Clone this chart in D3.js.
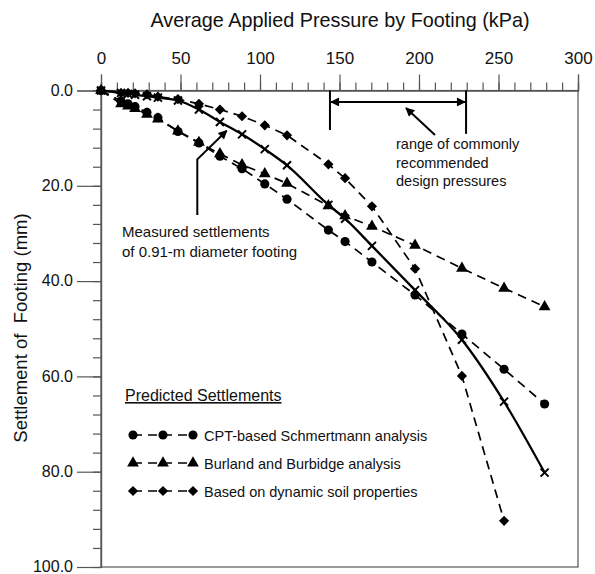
<!DOCTYPE html>
<html>
<head>
<meta charset="utf-8">
<script src="https://cdn.jsdelivr.net/npm/d3@7"></script>
<style>
  body { margin: 0; background: #fff; }
  text { font-family: "Liberation Sans", Arial, sans-serif; fill: #111; }
</style>
</head>
<body>
<div id="chart"></div>
<script>
// pressures (kPa) shared by all series
var pressure = [0, 12.6, 17, 21.4, 28.9, 35.8, 48.4, 61.6, 74.8, 88.7, 103, 117, 143, 153.5, 170.4, 197.5, 227, 253.5, 279];
// settlements (mm)
var measured     = [0, 0.5, 0.7, 0.9, 1.2, 1.5, 2.1, 4.0, 6.6, 9.2, 12.3, 15.7, 24.0, 26.9, 32.6, 41.9, 52.3, 65.3, 80.2];
var schmertmann  = [0, 2.2, 2.8, 3.4, 4.6, 5.7, 8.6, 11.0, 13.8, 16.4, 19.6, 22.8, 29.3, 31.7, 36.0, 42.9, 51.1, 58.5, 65.8];
var burland      = [0, 2.8, 3.3, 3.8, 5.0, 6.0, 8.5, 10.9, 13.3, 15.6, 17.5, 19.5, 24.2, 26.3, 28.5, 32.5, 37.3, 41.5, 45.4];
var dynamic      = [0, 0.5, 0.5, 0.6, 0.8, 1.3, 1.8, 2.8, 4.0, 5.4, 7.3, 9.4, 15.5, 18.4, 24.3, 37.4, 59.9, 90.3];

var legendNames = ["CPT-based Schmertmann analysis", "Burland and Burbidge analysis", "Based on dynamic soil properties"];
var xTicks = [0, 50, 100, 150, 200, 250, 300];
var yTicks = [0, 20, 40, 60, 80, 100];
var designRange = [144, 229.6];

var svgWidth = 595;
var svgHeight = 574;

var svg = d3.select("#chart")
            .append("svg")
            .attr("width", svgWidth)
            .attr("height", svgHeight);

var xScale = d3.scaleLinear().domain([0, 300]).range([101, 578]);
var yScale = d3.scaleLinear().domain([0, 100]).range([90.5, 567]);

// frame
svg.append("rect")
   .attr("x", 101).attr("y", 90.5)
   .attr("width", 477).attr("height", 476.5)
   .attr("fill", "none").attr("stroke", "#555").attr("stroke-width", 1.2);

// top axis: minor then major ticks
var xMinor = d3.axisTop(xScale).tickValues(d3.range(0, 301, 10)).tickSize(8).tickFormat("");
var xMajor = d3.axisTop(xScale).tickValues(xTicks).tickSize(16).tickPadding(11).tickFormat(d3.format("d"));
svg.append("g").attr("transform", "translate(0,90.5)").call(xMinor);
svg.append("g").attr("transform", "translate(0,90.5)").call(xMajor)
   .selectAll("text").style("font-size", "17px").attr("fill", "#111");

// left axis
var yMinor = d3.axisLeft(yScale).tickValues(d3.range(0, 101, 4)).tickSize(8).tickFormat("");
var yMajor = d3.axisLeft(yScale).tickValues(yTicks).tickSize(24).tickPadding(4).tickFormat(d3.format(".1f"));
svg.append("g").attr("transform", "translate(101,0)").call(yMinor);
svg.append("g").attr("transform", "translate(101,0)").call(yMajor)
   .selectAll("text").style("font-size", "16px").attr("dy", "0.3em").attr("fill", "#111");

svg.selectAll(".domain, .tick line").attr("stroke", "#555").attr("stroke-width", 1.2);

// axis titles
svg.append("text")
   .attr("x", 340).attr("y", 27)
   .attr("text-anchor", "middle")
   .style("font-size", "19.8px")
   .text("Average Applied Pressure by Footing (kPa)");

svg.append("text")
   .attr("transform", "translate(27,328) rotate(-90)")
   .attr("text-anchor", "middle")
   .style("font-size", "18.5px")
   .style("white-space", "pre")
   .text("Settlement of  Footing (mm)");

// series
function pts(vals) {
    return vals.map(function(v, i) { return [pressure[i], v]; });
}

var dashLine = d3.line()
    .x(function(d) { return xScale(d[0]); })
    .y(function(d) { return yScale(d[1]); });

var smoothLine = d3.line()
    .curve(d3.curveMonotoneX)
    .x(function(d) { return xScale(d[0]); })
    .y(function(d) { return yScale(d[1]); });

var symCircle = d3.symbol().type(d3.symbolCircle).size(66);
var symTri = d3.symbol().type(d3.symbolTriangle).size(60);
var symDia = d3.symbol().type(d3.symbolSquare).size(52);

var series = [
    { vals: schmertmann, sym: symCircle, rot: 0 },
    { vals: burland, sym: symTri, rot: 0 },
    { vals: dynamic, sym: symDia, rot: 45 }
];

series.forEach(function(s) {
    svg.append("path")
       .datum(pts(s.vals))
       .attr("d", dashLine)
       .attr("fill", "none")
       .attr("stroke", "#000")
       .attr("stroke-width", 1.7)
       .attr("stroke-dasharray", "9,6");
});

// measured curve
svg.append("path")
   .datum(pts(measured))
   .attr("d", smoothLine)
   .attr("fill", "none")
   .attr("stroke", "#000")
   .attr("stroke-width", 2.3);

series.forEach(function(s) {
    svg.append("g").selectAll("path")
       .data(pts(s.vals))
       .enter().append("path")
       .attr("d", s.sym())
       .attr("transform", function(d) {
           return "translate(" + xScale(d[0]) + "," + yScale(d[1]) + ") rotate(" + s.rot + ")";
       })
       .attr("fill", "#000");
});

svg.append("g").selectAll("path")
   .data(pts(measured))
   .enter().append("path")
   .attr("d", "M-4,-4L4,4M-4,4L4,-4")
   .attr("transform", function(d) { return "translate(" + xScale(d[0]) + "," + yScale(d[1]) + ")"; })
   .attr("stroke", "#000").attr("stroke-width", 2)
   .attr("fill", "none");

// arrowhead marker
var defs = svg.append("defs");
defs.append("marker")
    .attr("id", "head")
    .attr("viewBox", "0 0 10 10")
    .attr("refX", 9).attr("refY", 5)
    .attr("markerWidth", 11).attr("markerHeight", 9)
    .attr("markerUnits", "userSpaceOnUse")
    .attr("orient", "auto-start-reverse")
    .append("path").attr("d", "M0,0L10,5L0,10Z").attr("fill", "#000");

// design pressure range
svg.append("line")
   .attr("x1", xScale(designRange[0])).attr("x2", xScale(designRange[0]))
   .attr("y1", yScale(0)).attr("y2", yScale(8.3))
   .attr("stroke", "#000").attr("stroke-width", 2);
svg.append("line")
   .attr("x1", xScale(designRange[1])).attr("x2", xScale(designRange[1]))
   .attr("y1", yScale(0)).attr("y2", yScale(9.1))
   .attr("stroke", "#000").attr("stroke-width", 2);
svg.append("line")
   .attr("x1", xScale(designRange[0]) + 1).attr("x2", xScale(designRange[1]) - 1)
   .attr("y1", yScale(2.4)).attr("y2", yScale(2.4))
   .attr("stroke", "#000").attr("stroke-width", 2)
   .attr("marker-start", "url(#head)")
   .attr("marker-end", "url(#head)");
svg.append("line")
   .attr("x1", 435).attr("y1", 135)
   .attr("x2", 406).attr("y2", 108)
   .attr("stroke", "#000").attr("stroke-width", 2)
   .attr("marker-end", "url(#head)");

var rangeText = svg.append("text")
   .attr("x", 396).attr("y", 149)
   .style("font-size", "14.5px");
["range of commonly", "recommended", "design pressures"].forEach(function(t, i) {
    rangeText.append("tspan").attr("x", 396).attr("dy", i === 0 ? 0 : 18.5).text(t);
});

// measured label
svg.append("polyline")
   .attr("points", "197.3,215 197.3,159.3 226.7,130.7")
   .attr("fill", "none")
   .attr("stroke", "#000").attr("stroke-width", 2)
   .attr("marker-end", "url(#head)");

var measText = svg.append("text")
   .attr("x", 122).attr("y", 237)
   .style("font-size", "15px");
["Measured settlements", "of 0.91-m diameter footing"].forEach(function(t, i) {
    measText.append("tspan").attr("x", 122).attr("dy", i === 0 ? 0 : 20).text(t);
});

// legend
svg.append("text")
   .attr("x", 125).attr("y", 401)
   .style("font-size", "16px")
   .style("text-decoration", "underline")
   .text("Predicted Settlements");

var legendY = [435, 463, 491];
series.forEach(function(s, i) {
    var g = svg.append("g").attr("transform", "translate(0," + legendY[i] + ")");
    g.append("line")
     .attr("x1", 133).attr("x2", 193)
     .attr("stroke", "#000").attr("stroke-width", 1.7)
     .attr("stroke-dasharray", "9,6");
    [133, 163, 193].forEach(function(px) {
        g.append("path")
         .attr("d", s.sym())
         .attr("transform", "translate(" + px + ",0) rotate(" + s.rot + ")")
         .attr("fill", "#000");
    });
    g.append("text")
     .attr("x", 204).attr("y", 5.5)
     .style("font-size", "14.5px")
     .text(legendNames[i]);
});
</script>
</body>
</html>
